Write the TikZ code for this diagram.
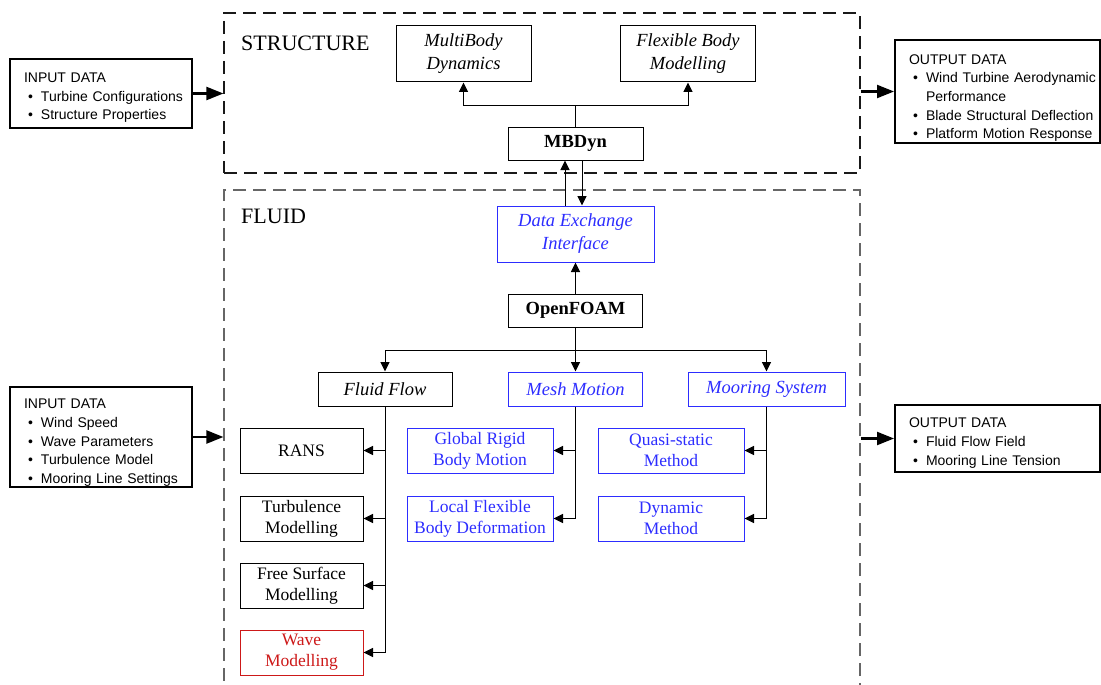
\documentclass[tikz,border=0pt]{standalone}
\usepackage{fontspec}
\setmainfont{Liberation Serif}
\newfontfamily\arialfont{Liberation Sans}
\usetikzlibrary{arrows.meta}
\definecolor{myblue}{RGB}{45,45,255}
\definecolor{myred}{RGB}{205,25,25}
\newcommand{\bl}[1]{\mbox{\makebox[17pt][l]{\hspace{4pt}\textbullet}#1}}
\newcommand{\cnt}[1]{\mbox{\hspace*{17pt}#1}}
\begin{document}
\begin{tikzpicture}[x=1pt,y=-1pt,
  box/.style={draw, line width=1pt, inner sep=0pt, align=center,
    font=\fontsize{17.5}{21}\selectfont},
  itbox/.style={box, font=\fontsize{18.5}{23}\selectfont\itshape},
  bfbox/.style={box, font=\fontsize{18.5}{22}\selectfont\bfseries},
  bluebox/.style={draw=myblue, text=myblue},
  iobox/.style={draw, line width=2pt, inner xsep=14pt, inner ysep=0pt, align=left,
    font=\arialfont\fontsize{14}{18.7}\selectfont},
  dbox/.style={draw, line width=1.2pt, dash pattern=on 13pt off 7pt, inner sep=0pt},
  lbl/.style={anchor=west, inner sep=0pt, font=\fontsize{22}{24}\selectfont},
  arr/.style={line width=1pt, -{Triangle[length=9.5pt,width=9pt]}},
  ln/.style={line width=1pt},
  bigarr/.style={line width=2.2pt, -{Triangle[length=17pt,width=13pt]}}
]
\useasboundingbox (0,0) rectangle (1101,685);
\clip (0,0) rectangle (1101,685);

% dashed regions
\node[dbox, draw=black!90, minimum width=636, minimum height=160] (sbox) at (542,93) {};
\node[dbox, draw=black!60, minimum width=636, minimum height=530] (fbox) at (542,455) {};
\node[lbl] (stl) at (241,43) {STRUCTURE};
\node[lbl] (fll) at (241,216) {FLUID};

% structure
\node[itbox, minimum width=135, minimum height=56] (mbd) at (463.5,54) {MultiBody\\Dynamics};
\node[itbox, minimum width=135, minimum height=56] (fbm) at (688,54) {Flexible Body\\Modelling};
\node[bfbox, minimum width=135, minimum height=33] (mb) at (575.5,143.5) {MBDyn};
\coordinate (sb) at (575.5,105);
\draw[ln] (mb.north) -- (sb);
\draw[arr] (sb) -| (mbd.south);
\draw[arr] (sb) -| (fbm.south);

% fluid
\node[itbox, bluebox, minimum width=157, minimum height=56] (de) at (575.5,234) {Data Exchange\\Interface};
\node[bfbox, minimum width=134, minimum height=33] (of) at (575.5,310.5) {OpenFOAM};
\draw[arr] ([xshift=-10.5pt]de.north) -- ([xshift=-10.5pt]mb.south);
\draw[arr] ([xshift=6.5pt]mb.south) -- ([xshift=6.5pt]de.north);
\draw[arr] (of.north) -- (de.south);

\node[itbox, minimum width=134, minimum height=34] (ff) at (385,389) {Fluid Flow};
\node[itbox, bluebox, minimum width=134, minimum height=34] (mesh) at (575.5,389) {Mesh Motion};
\node[itbox, bluebox, minimum width=157, minimum height=34] (moor) at (766.5,389) {Mooring System};
\coordinate (br) at (575.5,350);
\draw[arr] (of.south) -- (mesh.north);
\draw[arr] (br) -| (ff.north);
\draw[arr] (br) -| (moor.north);

\node[box, minimum width=123, minimum height=45] (rans) at (301.5,450.5) {RANS};
\node[box, minimum width=123, minimum height=45] (turb) at (301.5,518.5) {Turbulence\\Modelling};
\node[box, minimum width=123, minimum height=45] (free) at (301.5,585.5) {Free Surface\\Modelling};
\node[box, draw=myred, text=myred, minimum width=123, minimum height=45] (wave) at (301.5,652.5) {Wave\\Modelling};
\draw[arr] (ff.south) |- (wave.east);
\draw[arr] (ff.south) |- (rans.east);
\draw[arr] (ff.south) |- (turb.east);
\draw[arr] (ff.south) |- (free.east);

\node[box, bluebox, minimum width=146, minimum height=45] (grb) at (480,450.5) {Global Rigid\\Body Motion};
\node[box, bluebox, minimum width=146, minimum height=45] (lfb) at (480,518.5) {Local Flexible\\Body Deformation};
\draw[arr] (mesh.south) |- (lfb.east);
\draw[arr] (mesh.south) |- (grb.east);

\node[box, bluebox, minimum width=146, minimum height=45] (qs) at (671,450.5) {Quasi-static\\Method};
\node[box, bluebox, minimum width=146, minimum height=45] (dyn) at (671,518.5) {Dynamic\\Method};
\draw[arr] (moor.south) |- (dyn.east);
\draw[arr] (moor.south) |- (qs.east);

% input / output
\node[iobox, text width=154pt, minimum height=69] (in1) at (101,93.5)
  {\rule{0pt}{18pt}INPUT DATA\\\bl{Turbine Configurations}\\\bl{Structure Properties}};
\node[iobox, text width=177pt, minimum height=103] (out1) at (997.5,91.5)
  {\rule{0pt}{23pt}OUTPUT DATA\\\bl{Wind Turbine Aerodynamic}\\\cnt{Performance}\\\bl{Blade Structural Deflection}\\\bl{Platform Motion Response}};
\node[iobox, text width=154pt, minimum height=100] (in2) at (101,437)
  {\rule{0pt}{21pt}INPUT DATA\\\bl{Wind Speed}\\\bl{Wave Parameters}\\\bl{Turbulence Model}\\\bl{Mooring Line Settings}};
\node[iobox, text width=177pt, minimum height=67] (out2) at (997.5,438.5)
  {\rule{0pt}{19pt}OUTPUT DATA\\\bl{Fluid Flow Field}\\\bl{Mooring Line Tension}};

\draw[bigarr] (in1.east) -- (in1.east -| sbox.west);
\draw[bigarr] (sbox.east |- out1.west) -- (out1.west);
\draw[bigarr] (in2.east) -- (in2.east -| fbox.west);
\draw[bigarr] (fbox.east |- out2.west) -- (out2.west);
\end{tikzpicture}
\end{document}
